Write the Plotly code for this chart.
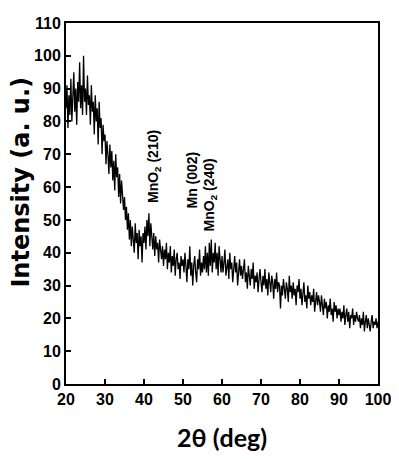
import plotly.graph_objects as go

# 2theta from 20 to 100 deg, step 0.25
two_theta = [20 + 0.25 * i for i in range(321)]

intensity = [
    84, 91, 78, 88, 82, 93, 80, 87, 95, 83, 90, 79, 92, 86, 98, 84, 91, 82, 100, 86,
    90, 82, 94, 85, 88, 79, 91, 83, 86, 76, 88, 80, 84, 73, 86, 78, 81, 70, 79, 74,
    76, 67, 74, 70, 64, 73, 66, 71, 62, 68, 59, 70, 63, 66, 57, 64, 55, 62, 58, 53,
    57, 50, 54, 47, 52, 44, 50, 42, 48, 45, 40, 49, 43, 46, 38, 47, 42, 45, 37, 46,
    43, 48, 41, 50, 45, 52, 42, 49, 46, 41, 46, 39, 45, 41, 43, 37, 44, 40, 38, 42,
    36, 41, 38, 43, 35, 40, 37, 42, 34, 39, 36, 41, 33, 38, 40, 35, 37, 32, 39, 36,
    38, 34, 40, 36, 31, 38, 35, 42, 33, 37, 30, 36, 39, 34, 31, 38, 35, 41, 33, 37,
    34, 39, 35, 42, 34, 40, 33, 43, 36, 44, 34, 40, 37, 43, 35, 40, 33, 42, 36, 34,
    39, 34, 37, 41, 33, 36, 38, 32, 40, 35, 37, 31, 36, 39, 34, 37, 30, 35, 38, 33,
    36, 32, 35, 38, 31, 34, 29, 36, 33, 30, 35, 32, 37, 29, 33, 31, 34, 28, 32, 35,
    31, 28, 33, 30, 35, 29, 32, 27, 34, 30, 28, 33, 31, 26, 32, 29, 34, 28, 31, 30,
    23, 30, 27, 32, 28, 26, 31, 29, 25, 33, 28, 30, 26, 31, 27, 29, 24, 30, 28, 32,
    26, 29, 24, 28, 31, 25, 27, 23, 30, 26, 28, 24, 27, 25, 29, 22, 26, 28, 24, 27,
    25, 22, 27, 24, 21, 26, 23, 25, 20, 24, 22, 26, 21, 23, 19, 25, 22, 24, 20, 23,
    21, 23, 19, 22, 20, 24, 18, 21, 23, 19, 22, 17, 21, 20, 23, 18, 21, 19, 22, 20,
    19, 21, 17, 20, 18, 22, 16, 19, 21, 17, 20, 18, 16, 19, 21, 17, 19, 18, 20, 17, 19,
]

peak_labels = ["MnO<sub>2</sub> (210)", "Mn (002)", "MnO<sub>2</sub> (240)"]
peak_x = [42.4, 52.3, 56.9]
peak_y = [54.5, 53, 46]

x_ticks = [20, 30, 40, 50, 60, 70, 80, 90, 100]
y_ticks = [0, 10, 20, 30, 40, 50, 60, 70, 80, 90, 100, 110]

tick_font = dict(family="Arial, Liberation Sans, sans-serif", size=16, color="black", weight=700)

fig = go.Figure()
fig.add_trace(
    go.Scatter(
        x=two_theta,
        y=intensity,
        mode="lines",
        line=dict(color="black", width=1.3),
        showlegend=False,
    )
)

for label, px, py in zip(peak_labels, peak_x, peak_y):
    fig.add_annotation(
        x=px, y=py, text=f"<b>{label}</b>", textangle=-90,
        showarrow=False, xanchor="center", yanchor="bottom",
        font=dict(family="Arial, Liberation Sans, sans-serif", size=14, color="black"),
    )

fig.add_annotation(
    x=-0.145, y=0.56, xref="paper", yref="paper", text="<b>Intensity (a. u.)</b>",
    textangle=-90, showarrow=False, xanchor="center", yanchor="middle",
    font=dict(family="DejaVu Sans", size=24, color="black"),
)
fig.add_annotation(
    x=0.5, y=-0.1, xref="paper", yref="paper", text="<b>2θ (deg)</b>",
    showarrow=False, xanchor="center", yanchor="top",
    font=dict(family="Lato, sans-serif", size=25, color="black"),
)

fig.update_xaxes(
    range=[20, 100], tickvals=x_ticks, ticktext=[f"<b>{v}</b>" for v in x_ticks],
    ticks="inside", ticklen=5, tickwidth=2,
    tickcolor="black", showline=True, linewidth=2, linecolor="black", mirror=True,
    showgrid=False, zeroline=False, tickfont=tick_font, automargin=False,
)
fig.update_yaxes(
    range=[0, 110], tickvals=y_ticks, ticktext=[f"<b>{v}</b>" for v in y_ticks],
    ticks="inside", ticklen=5, tickwidth=2,
    tickcolor="black", showline=True, linewidth=2, linecolor="black", mirror=True,
    showgrid=False, zeroline=False, tickfont=tick_font, automargin=False,
)
fig.update_layout(
    width=399, height=459,
    margin=dict(l=58, r=29, t=15, b=83),
    plot_bgcolor="white", paper_bgcolor="white",
)

fig.write_html("out.html")
